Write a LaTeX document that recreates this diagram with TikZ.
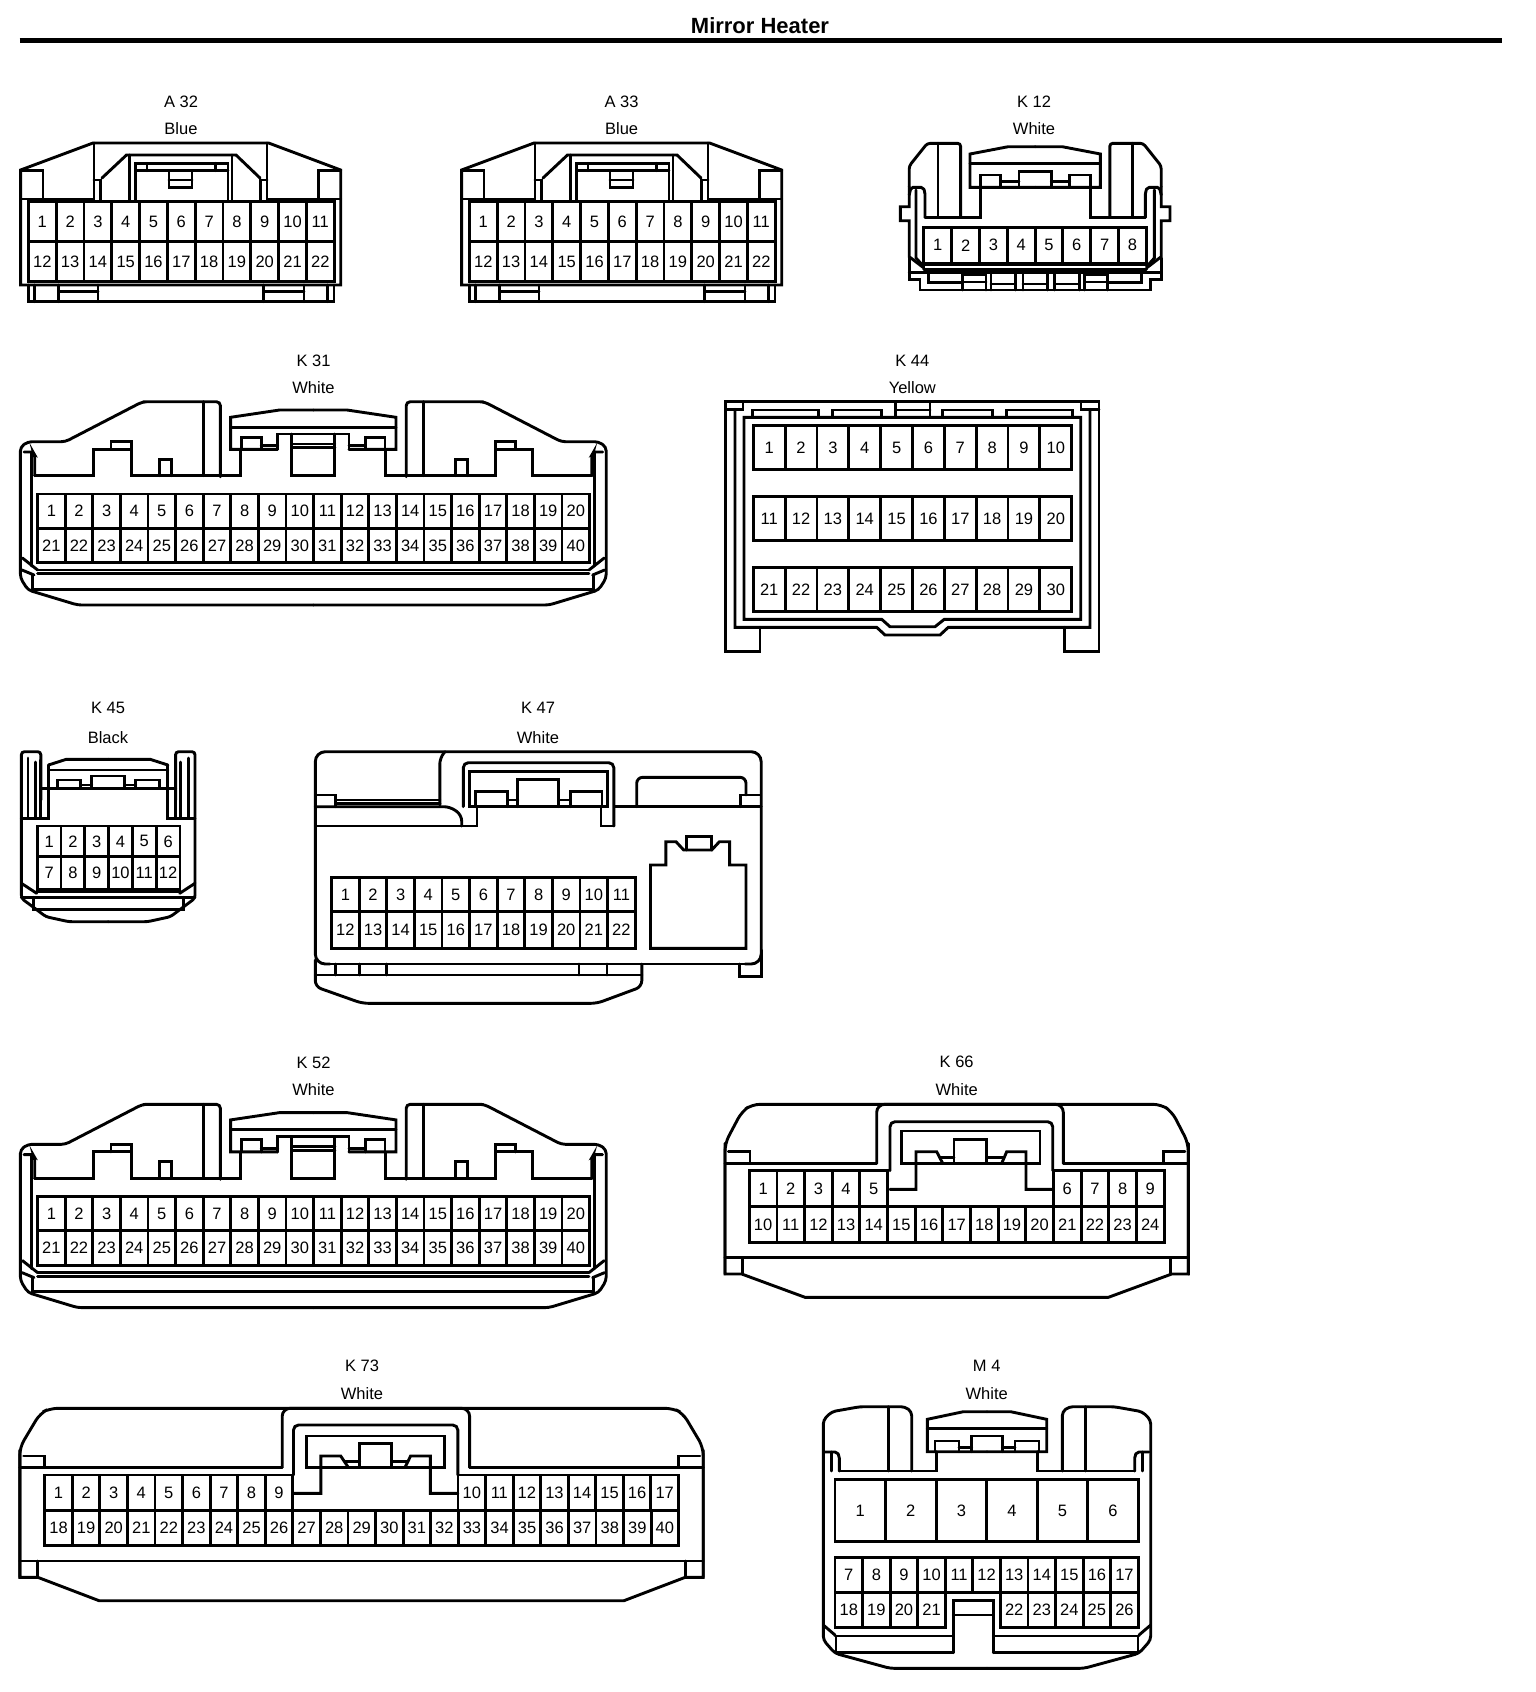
\documentclass[tikz,border=0pt]{standalone}
\usepackage{fontspec}
\setmainfont{Liberation Sans}
\usetikzlibrary{positioning}
\tikzstyle{cavity} = [rectangle, draw=black, inner sep=0pt, font=\fontsize{16.5}{16.5}\selectfont]
\tikzstyle{tag} = [inner sep=0pt, font=\fontsize{16.5}{16.5}\selectfont]
\tikzstyle{heading} = [inner sep=0pt, font=\fontsize{22}{22}\selectfont\bfseries]

% name, left x, top y, bottom y, cell width, first number, count
\newcommand{\pinrow}[7]{%
  \pgfmathsetmacro{\rowh}{#4-#3}
  \foreach \i in {1,...,#7} {
    \pgfmathtruncatemacro{\num}{#6+\i-1}
    \node[cavity, minimum width=#5pt, minimum height=\rowh pt] (#1p\num) at ({#2+(\i-0.5)*#5},{(#3+#4)/2}) {\num};
  }}

% blue 22 way shell
\newcommand{\bodyA}{%
  \draw (20.6,285)--(20.6,170)--(93,143)--(268.6,143)--(340.7,170)--(340.7,285)--cycle;
  \draw (20.6,170.7)--(43,170.7)--(43,199);
  \draw (340.7,170.7)--(318.6,170.7)--(318.6,199);
  \draw (20.6,199)--(94,199)--(94,143);
  \draw (340.7,199)--(267,199)--(267,143);
  \draw (94,180)--(100.5,180)--(100.5,202)--(135.8,202);
  \draw (267,180)--(260.8,180)--(260.8,202)--(228,202);
  \draw (102,178)--(126.5,155)--(236,155)--(260,178);
  \draw (129.4,155)--(129.4,201);
  \draw (232,155)--(232,201);
  \draw (135.8,201)--(135.8,163.3)--(228,163.3)--(228,201);
  \draw (135.8,170.7)--(228,170.7);
  \draw (147,163.3)--(147,170.7);
  \draw (215.7,163.3)--(215.7,170.7);
  \draw (169,170.7)--(169,187.7)--(192,187.7)--(192,170.7);
  \draw (169,180)--(192,180);
  % lower rail
  \draw (28.4,285)--(28.4,301.7)--(334,301.7)--(334,285);
  \draw (34.3,285)--(34.3,301.7);
  \draw (58.8,285)--(58.8,301.7);
  \draw (98,285)--(98,301.7);
  \draw (58.8,291.7)--(98,291.7);
  \draw (263.7,285)--(263.7,301.7);
  \draw (304,285)--(304,301.7);
  \draw (263.7,291.7)--(304,291.7);
  \draw (327.5,285)--(327.5,301.7);
}

% half of K 12
\newcommand{\halfKtwelve}{%
  \draw[rounded corners=3pt] (960.6,217.3)--(960.6,143.3)--(927.3,143.3)--(909.2,166)--(909.2,186.7);
  \draw (938,143.3)--(938,217.3);
  \draw (925,217.3)--(980.3,217.3)--(980.3,187.3);
  \draw[rounded corners=2pt] (909.2,195)--(911,187.3)--(923,187.3)--(925,192)--(925,217.3);
  \draw (916,190)--(916,258)--(923.9,266.7);
  \draw (909.2,186.7)--(909.2,206.7)--(900.4,206.7)--(900.4,220.7)--(909.2,220.7)--(909.2,256.7)--(923.9,268);
  \draw (923.9,265)--(1035.2,265);
  \draw (923.9,269.3)--(1035.2,269.3);
  \draw (909.2,272.7)--(1035.2,272.7);
  \draw (909.2,258)--(909.2,279.3)--(920,279.3)--(920,290)--(1035.2,290);
  \draw (928.8,272.7)--(928.8,282.7)--(962.6,282.7);
  \draw (962.6,290)--(962.6,275)--(986,275)--(986,290);
  \draw (962.6,282)--(986,282);
  \draw (991,272.7)--(991,290);
  \draw (991,284)--(1015.5,284)--(1015.5,272.7);
  \draw (1015.5,284)--(1015.5,290);
  \draw (1023,272.7)--(1023,290);
  \draw (1023,284)--(1035.2,284);
  % clip
  \draw (1035.2,146.7)--(1008.2,146.7)--(970,154)--(970,187.3)--(1035.2,187.3);
  \draw (970,163.3)--(1035.2,163.3);
  \draw (980.3,187.3)--(980.3,175)--(1000.8,175)--(1000.8,187.3);
  \draw (1019,187.3)--(1019,171.7)--(1035.2,171.7);
  \draw (1000.8,181.7)--(1019,181.7);
}

% half of K 31 and K 52
\newcommand{\halfKlong}{%
  \draw[rounded corners=4pt] (313.3,605)--(77.6,605)--(28,590)--(20.4,578)--(20.4,447)--(28,441.7)--(65.3,441.7)--(142,402)--(147,401.7)--(220.4,401.7)--(220.4,476.7);
  \draw (203.3,401.7)--(203.3,475.7);
  \draw (34.7,475.7)--(93.9,475.7)--(93.9,449.3)--(131.4,449.3)--(131.4,475.7)--(240.8,475.7)--(240.8,449.3);
  \draw (111,449.3)--(111,441.7)--(131.4,441.7)--(131.4,449.3);
  \draw (159.2,475.7)--(159.2,459.3)--(171.4,459.3)--(171.4,475.7);
  \draw[rounded corners=2pt] (24,452)--(33,452)--(34.7,455)--(34.7,475.7);
  \draw (31.8,453)--(31.8,566);
  \draw (22.4,558)--(37.6,570);
  \draw (37.6,570)--(313.3,570);
  \draw (37.6,573.8)--(313.3,573.8);
  \draw (22,570)--(34,575);
  \draw (32.7,575)--(32.7,589.3)--(313.3,589.3);
  % clip
  \draw (313.3,410)--(279.6,410)--(230.6,417.3)--(230.6,449.3)--(277.6,449.3);
  \draw (230.6,427.3)--(313.3,427.3);
  \draw (241.6,449.3)--(241.6,437.3)--(261.2,437.3)--(261.2,449.3);
  \draw (261.2,445.5)--(277.6,445.5);
  \draw (277.6,449.3)--(277.6,434)--(313.3,434);
  \draw (291.8,434)--(291.8,475.7)--(313.3,475.7);
  \draw (291.8,444)--(313.3,444);
  \draw (291.8,447.5)--(313.3,447.5);
}

% half of K 45
\newcommand{\halfKblack}{%
  \draw[rounded corners=3pt] (108.2,921.7)--(68.9,921.7)--(46,916.7)--(21.4,898.3)--(21.4,751.7)--(40.8,751.7)--(40.8,800);
  \draw (21.4,818.3)--(48.5,818.3)--(48.5,765);
  \draw (40.8,760)--(40.8,818.3);
  \draw (28,758)--(28,818.3);
  \draw (35.7,762)--(35.7,818.3);
  \draw (48.5,765)--(66.3,759.3)--(108.2,759.3);
  \draw (48.5,770)--(108.2,770);
  \draw (40.8,788.3)--(108.2,788.3);
  \draw (57.1,788.3)--(57.1,780)--(80.6,780)--(80.6,788.3);
  \draw (80.6,785)--(91.8,785);
  \draw (91.8,788.3)--(91.8,776)--(108.2,776);
  \draw (21.4,883.3)--(36.7,893.3);
  \draw (36.7,891.7)--(108.2,891.7);
  \draw (21.4,897.3)--(108.2,897.3);
  \draw (33.2,897.3)--(33.2,909.3)--(108.2,909.3);
}

% half of M 4
\newcommand{\halfMfour}{%
  \draw[rounded corners=4pt] (987,1668.3)--(890,1668.3)--(835,1653.3)--(823.3,1640)--(823.3,1420)--(831.7,1411.7)--(860,1406.7)--(905,1406.7)--(911.7,1411.7)--(911.7,1471);
  \draw (888.3,1406.7)--(888.3,1471);
  \draw[rounded corners=2pt] (825,1452)--(837,1452)--(839.3,1456)--(839.3,1471);
  \draw (831.7,1452)--(831.7,1471);
  \draw (839.3,1471)--(936.7,1471)--(936.7,1451.7);
  \draw (987,1411.7)--(963.3,1411.7)--(927.3,1419.3)--(927.3,1451.7)--(987,1451.7);
  \draw (927.3,1428.3)--(987,1428.3);
  \draw (935,1451.7)--(935,1441)--(959,1441)--(959,1451.7);
  \draw (959,1447.3)--(971.7,1447.3);
  \draw (971.7,1451.7)--(971.7,1436)--(987,1436);
  \draw (823.3,1625)--(835,1635);
  \draw (836,1636)--(836,1652.7);
}

\begin{document}
\begin{tikzpicture}[x=1pt,y=-1pt,line width=2.9pt,line cap=round,line join=miter]
  \useasboundingbox (0,0) rectangle (1536,1692);
  \fill[white] (0,0) rectangle (1536,1692);

  % page heading
  \node[heading](title) at (760,26) {Mirror Heater};
  \coordinate (rulel) at (19.6,40.3);
  \coordinate (ruler) at (1502,40.3);
  \draw[line width=5pt, line cap=butt] (rulel) -- (ruler);

  % A 32
  \node[tag](a32name) at (181,102) {A 32};
  \node[tag](a32col) at (181,129) {Blue};
  \bodyA
  \pinrow{a32}{28.4}{201.7}{241.7}{27.8}{1}{11}
  \pinrow{a32}{28.4}{241.7}{281.7}{27.8}{12}{11}

  % A 33
  \node[tag](a33name) at (621.6,102) {A 33};
  \node[tag](a33col) at (621.6,129) {Blue};
  \begin{scope}[shift={(441,0)}]
    \bodyA
    \pinrow{a33}{28.4}{201.7}{241.7}{27.8}{1}{11}
    \pinrow{a33}{28.4}{241.7}{281.7}{27.8}{12}{11}
  \end{scope}

  % K 12
  \node[tag](k12name) at (1034,102) {K 12};
  \node[tag](k12col) at (1034,129) {White};
  \halfKtwelve
  \begin{scope}[shift={(2070.4,0)},xscale=-1]
    \halfKtwelve
  \end{scope}
  \pinrow{k12}{923.9}{227.3}{263.3}{27.8}{1}{8}

  % K 31
  \node[tag](k31name) at (313.5,360.7) {K 31};
  \node[tag](k31col) at (313.5,387.3) {White};
  \halfKlong
  \begin{scope}[shift={(626.6,0)},xscale=-1]
    \halfKlong
  \end{scope}
  \pinrow{k31}{37.6}{494}{528.3}{27.6}{1}{20}
  \pinrow{k31}{37.6}{528.3}{562.7}{27.6}{21}{20}

  % K 44
  \node[tag](k44name) at (912.3,360.7) {K 44};
  \node[tag](k44col) at (912.3,387.3) {Yellow};
  \draw (760,627.3)--(760,651.7)--(725.7,651.7)--(725.7,401.7)--(1099,401.7)--(1099,651.7)--(1064.5,651.7)--(1064.5,627.3);
  \draw (735,409.3)--(735,627.3)--(876.7,627.3)--(885,635)--(940,635)--(948.3,627.3)--(1090,627.3)--(1090,409.3);
  \draw (744,417.3)--(1080.7,417.3)--(1080.7,619.3)--(944.3,619.3)--(935,626.7)--(890,626.7)--(881.7,619.3)--(744,619.3)--cycle;
  \draw (725.7,409.3)--(743,409.3)--(743,403);
  \draw (1099,409.3)--(1081,409.3)--(1081,403);
  \draw (752.7,417.3)--(752.7,410)--(818.3,410)--(818.3,417.3);
  \draw (832.7,417.3)--(832.7,410)--(881.7,410)--(881.7,417.3);
  \draw (895.7,401.7)--(895.7,417.3);
  \draw (930,401.7)--(930,417.3);
  \draw (895.7,410)--(930,410);
  \draw (942.7,417.3)--(942.7,410)--(992.3,410)--(992.3,417.3);
  \draw (1006.7,417.3)--(1006.7,410)--(1072.3,410)--(1072.3,417.3);
  \pinrow{k44}{753.3}{425.7}{469.3}{31.84}{1}{10}
  \pinrow{k44}{753.3}{496.7}{540.7}{31.84}{11}{10}
  \pinrow{k44}{753.3}{567.7}{611.7}{31.84}{21}{10}

  % K 45
  \node[tag](k45name) at (108,708.3) {K 45};
  \node[tag](k45col) at (108,737.3) {Black};
  \halfKblack
  \begin{scope}[shift={(216.4,0)},xscale=-1]
    \halfKblack
  \end{scope}
  \pinrow{k45}{37.2}{826}{856.7}{23.8}{1}{6}
  \pinrow{k45}{37.2}{856.7}{889.3}{23.8}{7}{6}

  % K 47
  \node[tag](k47name) at (538,708.3) {K 47};
  \node[tag](k47col) at (538,737.3) {White};
  \draw[rounded corners=10pt] (330,964)--(315.3,964)--(315.3,751.7)--(761.2,751.7)--(761.2,964)--(745,964);
  \draw (330,964)--(745,964);
  \draw (761.2,950)--(761.2,976.7)--(739.8,976.7)--(739.8,964);
  \draw[rounded corners=6pt] (315.3,960)--(315.3,986.7)--(362.2,1003.3)--(597,1003.3)--(641.8,986.7)--(641.8,964);
  \draw (315.3,975)--(641.8,975);
  \draw (335.7,964)--(335.7,975);
  \draw (359.7,964)--(359.7,975);
  \draw (386.7,964)--(386.7,975);
  \draw (579,964)--(579,975);
  \draw (607,964)--(607,975);
  \draw[rounded corners=6pt] (445,751.7)--(439.8,758)--(439.8,805);
  \draw[rounded corners=6pt] (315.3,806.7)--(450,806.7)--(461.7,815)--(461.7,826);
  \draw (315.3,826)--(477,826)--(477,806.7);
  \draw (317,795)--(335.7,795)--(335.7,806.7);
  \draw (335.7,800)--(439.8,800);
  \draw (335.7,803.3)--(439.8,803.3);
  \draw[rounded corners=5pt] (463.3,806.7)--(463.3,762.7)--(613.8,762.7)--(613.8,826);
  \draw (613.8,826)--(601,826)--(601,806.7);
  \draw (469.4,771.7)--(607.1,771.7)--(607.1,806.7)--(469.4,806.7)--cycle;
  \draw (475.5,806.7)--(475.5,791.7)--(507.7,791.7)--(507.7,806.7);
  \draw (517.9,806.7)--(517.9,779.3)--(558.7,779.3)--(558.7,806.7);
  \draw (570.4,806.7)--(570.4,791.7)--(602,791.7)--(602,806.7);
  \draw (507.7,800)--(517.9,800);
  \draw (558.7,800)--(570.4,800);
  \draw (614.8,806.7)--(761.2,806.7);
  \draw[rounded corners=6pt] (636.7,806.7)--(636.7,777.3)--(746,777.3)--(746,795);
  \draw (760,795)--(740.8,795)--(740.8,806.7);
  \draw (650.5,948.3)--(650.5,865)--(665.8,865)--(665.8,841.7)--(676,841.7)--(683.7,850)--(711.7,850)--(719.4,841.7)--(729.6,841.7)--(729.6,865)--(746,865)--(746,948.3)--cycle;
  \draw (686.2,850)--(686.2,836.7)--(711.7,836.7)--(711.7,850);
  \pinrow{k47}{331.6}{877.3}{911.7}{27.6}{1}{11}
  \pinrow{k47}{331.6}{911.7}{948.3}{27.6}{12}{11}

  % K 52
  \node[tag](k52name) at (313.5,1063) {K 52};
  \node[tag](k52col) at (313.5,1090) {White};
  \begin{scope}[shift={(0,702.6)}]
    \halfKlong
    \begin{scope}[shift={(626.6,0)},xscale=-1]
      \halfKlong
    \end{scope}
    \pinrow{k52}{37.6}{494}{528.3}{27.6}{1}{20}
    \pinrow{k52}{37.6}{528.3}{562.7}{27.6}{21}{20}
  \end{scope}

  % K 66
  \node[tag](k66name) at (956.7,1062.3) {K 66};
  \node[tag](k66col) at (956.7,1089.3) {White};
  \draw[rounded corners=8pt] (725,1274)--(725,1143.3)--(741.7,1111.7)--(752,1104.3)--(1161,1104.3)--(1172,1111.7)--(1188.3,1143.3)--(1188.3,1274);
  \draw (725,1143.3)--(725,1274)--(741.7,1274)--(805,1297.3)--(1108.4,1297.3)--(1171.7,1274)--(1188.3,1274)--(1188.3,1143.3);
  \draw (725,1257.7)--(1188.3,1257.7);
  \draw (742.7,1257.7)--(742.7,1274);
  \draw (1170.7,1257.7)--(1170.7,1274);
  \draw (728.3,1151.7)--(750,1151.7)--(750,1163.3);
  \draw (1185,1151.7)--(1163.3,1151.7)--(1163.3,1163.3);
  \draw (725,1163.3)--(876.7,1163.3);
  \draw (1063.3,1163.3)--(1188.3,1163.3);
  \draw[rounded corners=8pt] (876.7,1163.3)--(876.7,1104.3)--(1063.3,1104.3)--(1063.3,1163.3);
  \draw[rounded corners=5pt] (890,1170.7)--(890,1121.7)--(1052.7,1121.7)--(1052.7,1170.7);
  \draw (901.7,1131)--(1040,1131)--(1040,1163.3)--(901.7,1163.3)--cycle;
  \draw (890,1189.3)--(916,1189.3)--(916,1151.7)--(936.7,1151.7)--(942.7,1163.3);
  \draw (954,1163.3)--(954,1139.3)--(986.7,1139.3)--(986.7,1163.3);
  \draw (1001.7,1163.3)--(1006.7,1151.7)--(1026,1151.7)--(1026,1189.3)--(1052.7,1189.3);
  \draw (940,1157.3)--(954,1157.3);
  \draw (986.7,1157.3)--(1003,1157.3);
  \pinrow{k66a}{749.3}{1170.7}{1206.7}{27.65}{1}{5}
  \pinrow{k66b}{1053.5}{1170.7}{1206.7}{27.65}{6}{4}
  \pinrow{k66c}{749.3}{1206.7}{1242.7}{27.65}{10}{15}

  % K 73
  \node[tag](k73name) at (362,1365.7) {K 73};
  \node[tag](k73col) at (362,1393.3) {White};
  \draw[rounded corners=8pt] (19.8,1577.3)--(19.8,1447.3)--(40.1,1413.3)--(50,1408.3)--(673,1408.3)--(683,1413.3)--(703.2,1447.3)--(703.2,1577.3);
  \draw (19.8,1450)--(19.8,1577.3)--(37.8,1577.3)--(99.1,1600.7)--(623.9,1600.7)--(685.2,1577.3)--(703.2,1577.3)--(703.2,1450);
  \draw (19.8,1561)--(703.2,1561);
  \draw (37.8,1561)--(37.8,1577.3);
  \draw (685.2,1561)--(685.2,1577.3);
  \draw (23.6,1456)--(44.8,1456)--(44.8,1467.3);
  \draw (699.9,1456)--(678.6,1456)--(678.6,1467.3);
  \draw (19.8,1467.3)--(282.2,1467.3);
  \draw (469.6,1467.3)--(703.2,1467.3);
  \draw[rounded corners=8pt] (282.2,1467.3)--(282.2,1408.3)--(469.6,1408.3)--(469.6,1467.3);
  \draw[rounded corners=5pt] (293.5,1475)--(293.5,1425)--(457.8,1425)--(457.8,1475);
  \draw (306.8,1436)--(444.5,1436)--(444.5,1467.3)--(306.8,1467.3)--cycle;
  \draw (293.5,1493.3)--(320.9,1493.3)--(320.9,1456)--(340.7,1456)--(348.3,1467.3);
  \draw (359.6,1467.3)--(359.6,1443.3)--(391.7,1443.3)--(391.7,1467.3);
  \draw (405,1467.3)--(410.6,1456)--(430.4,1456)--(430.4,1493.3)--(457.8,1493.3);
  \draw (345,1461.7)--(359.6,1461.7);
  \draw (391.7,1461.7)--(407,1461.7);
  \pinrow{k73a}{44.8}{1475}{1510.7}{27.56}{1}{9}
  \pinrow{k73b}{458}{1475}{1510.7}{27.56}{10}{8}
  \pinrow{k73c}{44.8}{1510.7}{1545.7}{27.56}{18}{23}

  % M 4
  \node[tag](m4name) at (986.7,1365.7) {M 4};
  \node[tag](m4col) at (986.7,1393.3) {White};
  \halfMfour
  \begin{scope}[shift={(1974,0)},xscale=-1]
    \halfMfour
  \end{scope}
  \draw (953.3,1652.7)--(953.3,1600.7)--(993.3,1600.7)--(993.3,1652.7);
  \draw (953.3,1615)--(993.3,1615);
  % key rails
  \draw (835,1636)--(953.3,1636);
  \draw (836,1652.7)--(953.3,1652.7);
  \draw (993.3,1636)--(1139,1636);
  \draw (993.3,1652.7)--(1138,1652.7);
  \pinrow{m4a}{835}{1479.3}{1541.7}{50.55}{1}{6}
  \pinrow{m4b}{835}{1557.3}{1592.7}{27.57}{7}{11}
  \pinrow{m4c}{835}{1592.7}{1627.7}{27.57}{18}{4}
  \pinrow{m4d}{1000.4}{1592.7}{1627.7}{27.57}{22}{5}
\end{tikzpicture}
\end{document}
